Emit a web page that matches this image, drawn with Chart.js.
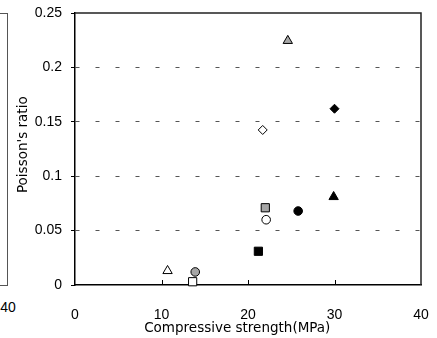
<!DOCTYPE html>
<html>
<head>
<meta charset="utf-8">
<script src="https://cdn.jsdelivr.net/npm/chart.js@4"></script>
<style>
  html, body { margin: 0; padding: 0; background: #fff; }
  #wrap { position: relative; width: 437px; height: 338px; overflow: hidden; }
  /* right edge of the neighbouring chart, cut off by the picture */
  #prev { position: absolute; left: -60px; top: 13px; width: 67px; height: 271px;
          border: 1.5px solid #555; border-left: none; }
  #prevLabel { position: absolute; left: -12px; width: 40px; top: 299px; text-align: center;
               font: 14px "Liberation Sans", Arial, sans-serif; color: #000; }
  #chart { position: absolute; left: 0; top: 0; }
</style>
</head>
<body>
<div id="wrap">
  <div id="prev"></div>
  <div id="prevLabel">40</div>
  <canvas id="chart" width="437" height="338"></canvas>
</div>
<script>
// compressive strength (MPa) and Poisson's ratio, one point per material
const strength = [24.6, 21.7, 30.0, 29.9, 25.8, 22.0, 22.1, 21.2, 10.7, 13.9, 13.6];
const poisson = [0.2245, 0.1425, 0.162, 0.081, 0.068, 0.071, 0.060, 0.031, 0.013, 0.012, 0.003];

const xTicks = [0, 10, 20, 30, 40];
const yTicks = [0, 0.05, 0.1, 0.15, 0.2, 0.25];
const yTickLabels = ['0', '0.05', '0.1', '0.15', '0.2', '0.25'];

// marker look for each point
const markers = ['triangle', 'rectRot', 'rectRot', 'triangle', 'circle', 'rect', 'circle', 'rect', 'triangle', 'circle', 'rect'];
const fills = ['#a6a6a6', '#fff', '#000', '#000', '#000', '#a6a6a6', '#fff', '#000', '#fff', '#a6a6a6', '#fff'];
const radius = { rect: 5.8, triangle: 5.4, circle: 4.3, rectRot: 4.5 };

const tickFont = { family: '"Liberation Sans", Arial, sans-serif', size: 14 };
const titleFont = { family: '"DejaVu Sans", sans-serif', size: 13.5 };

// top/right frame and the short inward ticks on the x axis
const frame = {
  id: 'frame',
  beforeDatasetsDraw(chart) {
    const { ctx, chartArea: a, scales } = chart;
    ctx.save();
    ctx.strokeStyle = '#222';
    ctx.lineWidth = 1.5;
    ctx.beginPath();
    ctx.moveTo(a.left, a.top);
    ctx.lineTo(a.right, a.top);
    ctx.lineTo(a.right, a.bottom);
    ctx.stroke();
    ctx.strokeStyle = '#000';
    ctx.lineWidth = 1;
    ctx.beginPath();
    xTicks.slice(1, -1).forEach(v => {
      const x = Math.round(scales.x.getPixelForValue(v)) + 0.5;
      ctx.moveTo(x, a.bottom);
      ctx.lineTo(x, a.bottom - 5);
    });
    ctx.stroke();
    ctx.restore();
  }
};

new Chart(document.getElementById('chart'), {
  type: 'scatter',
  data: {
    datasets: strength.map((x, i) => ({
      data: [{ x: x, y: poisson[i] }],
      pointStyle: markers[i],
      pointRadius: radius[markers[i]],
      pointHoverRadius: radius[markers[i]],
      backgroundColor: fills[i],
      borderColor: '#000',
      borderWidth: 1,
      clip: false
    }))
  },
  options: {
    responsive: false,
    animation: false,
    layout: { padding: { left: 0, top: 13, right: 16, bottom: 0 } },
    plugins: { legend: { display: false }, tooltip: { enabled: false } },
    scales: {
      x: {
        type: 'linear',
        min: 0,
        max: 40,
        afterBuildTicks: s => { s.ticks = xTicks.map(v => ({ value: v })); },
        afterFit: s => { s.height = 53; s.paddingLeft = 0; s.paddingRight = 0; },
        grid: { display: false },
        border: { display: true, color: '#000', width: 1.5 },
        ticks: { font: tickFont, color: '#000', padding: 14, maxRotation: 0, callback: v => String(v) },
        title: {
          display: true,
          text: 'Compressive strength(MPa)     ',
          font: titleFont,
          color: '#000',
          padding: { top: 0, bottom: 1 }
        }
      },
      y: {
        min: 0,
        max: 0.25,
        afterBuildTicks: s => { s.ticks = yTicks.map(v => ({ value: v })); },
        afterFit: s => { s.width = 75; s.paddingTop = 0; s.paddingBottom = 0; },
        grid: {
          color: c => (c.tick && (c.tick.value === 0 || c.tick.value === 0.25)) ? 'rgba(0,0,0,0)' : '#555',
          tickColor: '#000',
          tickLength: 4,
          tickWidth: 1,
          lineWidth: 1
        },
        border: { display: true, color: '#000', width: 1.5, dash: [4, 16] },
        ticks: { font: tickFont, color: '#000', padding: 9, callback: (v, i) => yTickLabels[i] },
        title: {
          display: true,
          text: "  Poisson's ratio",
          font: titleFont,
          color: '#000',
          padding: { top: 15, bottom: 0 }
        }
      }
    }
  },
  plugins: [frame]
});
</script>
</body>
</html>
